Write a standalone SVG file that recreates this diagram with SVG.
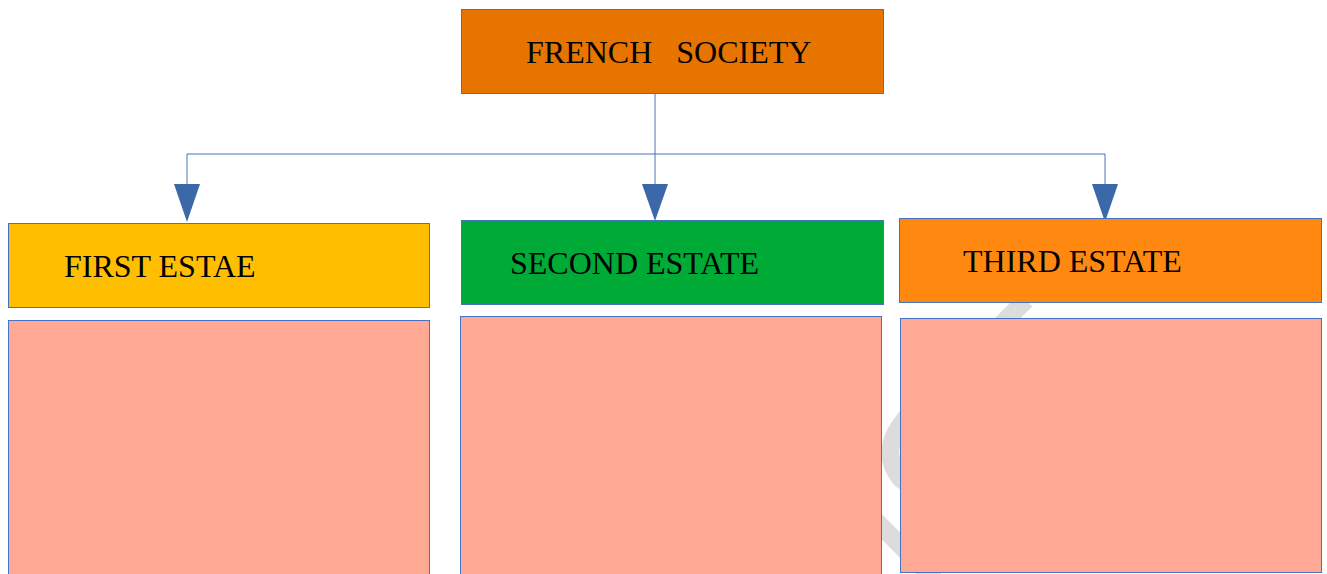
<svg xmlns="http://www.w3.org/2000/svg" width="1327" height="574" viewBox="0 0 1327 574">
<style>
.box{stroke:#4472C4;stroke-width:1}
.lbl{font-family:"Liberation Serif","Times New Roman",serif;font-size:32px;fill:#000}
.con{fill:none;stroke:#4A72B0;stroke-width:1}
.pink{fill:#FFA994;stroke:#4472C4;stroke-width:1}
.wm{fill:none;stroke:#DCDCDC;stroke-width:18}
</style>
<rect width="1327" height="574" fill="#fff"/>
<path class="wm" d="M1026 300 L906 418 Q878 450 900 478 L940 510"/>
<path class="wm" d="M845 490 L935 580"/>
<g id="connectors">
<path class="con" d="M655 93 V184"/>
<path class="con" d="M187 184 V154 H1105 V184"/>
<path d="M174 184 L200 184 L187 222 Z" fill="#3A68A8"/>
<path d="M642 184 L668 184 L655 221 Z" fill="#3A68A8"/>
<path d="M1092 184 L1118 184 L1105 222 Z" fill="#3A68A8"/>
</g>
<g id="french-society">
<rect class="box" x="461.5" y="9.5" width="422" height="84" fill="#E87400"/>
<text class="lbl" x="526" y="63" xml:space="preserve">FRENCH   SOCIETY</text>
</g>
<g id="first-estate">
<rect class="box" x="8.5" y="223.5" width="421" height="84" fill="#FFBF00"/>
<text class="lbl" x="64" y="277">FIRST ESTAE</text>
</g>
<g id="second-estate">
<rect class="box" x="461.5" y="220.5" width="422" height="84" fill="#00AA36"/>
<text class="lbl" x="510" y="274">SECOND ESTATE</text>
</g>
<g id="third-estate">
<rect class="box" x="899.5" y="218.5" width="422" height="84" fill="#FF8811"/>
<text class="lbl" x="963" y="272">THIRD ESTATE</text>
</g>
<g id="first-detail"><rect class="pink" x="8.5" y="320.5" width="421" height="260"/></g>
<g id="second-detail"><rect class="pink" x="460.5" y="316.5" width="421" height="264"/></g>
<g id="third-detail"><rect class="pink" x="900.5" y="318.5" width="421" height="254"/></g>
</svg>
